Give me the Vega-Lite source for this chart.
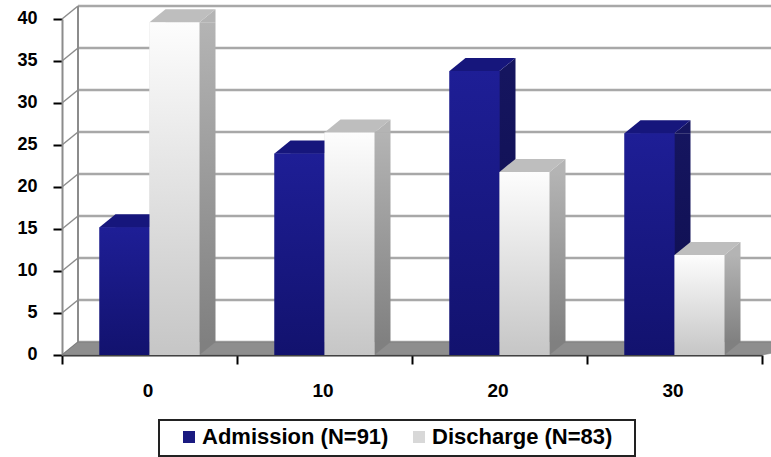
{
"$schema":"https://vega.github.io/schema/vega-lite/v6.json",
"width":700,"height":336,"autosize":"none",
"padding":{"left":62,"top":19,"right":9,"bottom":102},
"background":"white",
"config":{"view":{"stroke":null},"font":"Liberation Sans"},
"datasets":{
"bars":[
{"Score":"0","Group":"Admission (N=91)","Value":15.2},
{"Score":"10","Group":"Admission (N=91)","Value":24},
{"Score":"20","Group":"Admission (N=91)","Value":33.8},
{"Score":"30","Group":"Admission (N=91)","Value":26.4},
{"Score":"0","Group":"Discharge (N=83)","Value":39.6},
{"Score":"10","Group":"Discharge (N=83)","Value":26.5},
{"Score":"20","Group":"Discharge (N=83)","Value":21.8},
{"Score":"30","Group":"Discharge (N=83)","Value":11.9}
],
"ticks":[{"Tick":0},{"Tick":5},{"Tick":10},{"Tick":15},{"Tick":20},{"Tick":25},{"Tick":30},{"Tick":35},{"Tick":40}]
},
"layer":[
{"data":{"name":"ticks"},"mark":{"type":"point","filled":false,"opacity":1,"size":4,"stroke":"#a8a8a8","strokeWidth":2.5,"shape":"M-334,-13 L420,-13"},
 "encoding":{"y":{"field":"Tick","type":"quantitative","scale":{"domain":[0,40],"nice":false},"title":null}}},
{"data":{"name":"ticks"},"mark":{"type":"point","filled":false,"opacity":1,"size":4,"stroke":"#8c8c8c","strokeWidth":1.5,"shape":"M-350,0 L-334,-13"},
 "encoding":{"y":{"field":"Tick","type":"quantitative","scale":{"domain":[0,40],"nice":false},"title":null}}},
{"data":{"values":[{"Tick":0}]},"mark":{"type":"point","filled":false,"opacity":1,"size":4,"stroke":"#8c8c8c","strokeWidth":2,"shape":"M-334,-13 L-334,-349"},
 "encoding":{"y":{"field":"Tick","type":"quantitative","scale":{"domain":[0,40],"nice":false},"title":null}}},
{"data":{"values":[{"Tick":0}]},"mark":{"type":"point","filled":true,"opacity":1,"size":4,"fill":"#8e8e8e","stroke":"#6e6e6e","strokeWidth":0.5,"shape":"M-350,0 L-334,-13 L420,-13 L350,0 Z"},
 "encoding":{"y":{"field":"Tick","type":"quantitative","scale":{"domain":[0,40],"nice":false},"title":null}}},
{"data":{"values":[{"Tick":0}]},"mark":{"type":"point","filled":false,"opacity":1,"size":4,"stroke":"#222222","strokeWidth":2,"shape":"M-253,65 L223,65 L223,101 L-253,101 Z"},
 "encoding":{"y":{"field":"Tick","type":"quantitative","scale":{"domain":[0,40],"nice":false},"title":null}}},
{"data":{"name":"bars"},
 "encoding":{
  "x":{"field":"Score","type":"nominal","title":null,"scale":{"paddingInner":0,"paddingOuter":0},
   "axis":{"labelAngle":0,"tickBand":"extent","tickSize":9,"tickColor":"black","tickWidth":2,"domainColor":"#333333","domainWidth":2,"labelFont":"Liberation Sans","labelFontSize":19,"labelFontWeight":"bold","labelColor":"black","labelPadding":17,"labelOffset":-2,"grid":false}},
  "y":{"field":"Value","type":"quantitative","stack":null,"title":null,"scale":{"domain":[0,40],"nice":false},
   "axis":{"values":[0,5,10,15,20,25,30,35,40],"tickSize":9,"tickColor":"black","tickWidth":2,"domainColor":"#8c8c8c","domainWidth":2,"labelFont":"Liberation Sans","labelFontSize":18,"labelFontWeight":"bold","labelColor":"black","labelPadding":16,"labelOffset":-1,"grid":false}}
 },
 "resolve":{"scale":{"xOffset":"independent"}},
 "layer":[
  {"transform":[{"filter":"datum.Group === 'Admission (N=91)'"}],
   "encoding":{"xOffset":{"field":"Group","type":"nominal","scale":{"domain":["Admission (N=91)","Discharge (N=83)"],"range":[16,191],"paddingInner":0,"paddingOuter":0.75}}},
   "layer":[{"mark":{"type":"bar","y2Offset":-13,"fill":{"gradient":"linear","x1":0,"y1":0,"x2":0,"y2":1,"stops":[{"offset":0,"color":"#15155f"},{"offset":1,"color":"#0e0e4e"}]}},"encoding":{"y2":{"datum":0}}}]},
  {"encoding":{"xOffset":{"field":"Group","type":"nominal","scale":{"paddingInner":0,"paddingOuter":0.75}}},
   "layer":[
    {"mark":{"type":"bar"},"encoding":{"y2":{"datum":0},
      "color":{"field":"Group","type":"nominal","scale":{"range":["#1a1a80","#d8d8d8"]},
       "legend":{"title":null,"orient":"none","legendX":116,"legendY":407,"direction":"horizontal","columns":2,"symbolType":"square","symbolSize":144,"labelFont":"Liberation Sans","labelFontSize":22,"labelFontWeight":"bold","labelColor":"black","labelLimit":300,"padding":0,"columnPadding":19,"labelOffset":2}}}},
    {"transform":[{"filter":"datum.Group === 'Admission (N=91)'"}],"layer":[
     {"mark":{"type":"point","filled":true,"opacity":1,"size":4,"fill":"#15155f","shape":"M25,0 L41,-13 L41,0 Z"}},
     {"mark":{"type":"point","filled":true,"opacity":1,"size":4,"fill":"#0e0e4e","shape":"M25,0 L41,-13 L25,-13 Z"},"encoding":{"y":{"datum":0}}},
     {"mark":{"type":"point","filled":true,"opacity":1,"size":4,"fill":"#16167c","shape":"M-25,0 L25,0 L41,-13 L-9,-13 Z"}},
     {"mark":{"type":"bar","fill":{"gradient":"linear","x1":0,"y1":0,"x2":0,"y2":1,"stops":[{"offset":0,"color":"#1e1e96"},{"offset":1,"color":"#12126e"}]}},"encoding":{"y2":{"datum":0}}}
    ]}
   ]},
  {"transform":[{"filter":"datum.Group === 'Discharge (N=83)'"}],
   "encoding":{"xOffset":{"field":"Group","type":"nominal","scale":{"domain":["Admission (N=91)","Discharge (N=83)"],"range":[16,191],"paddingInner":0,"paddingOuter":0.75}}},
   "layer":[{"mark":{"type":"bar","y2Offset":-13,"fill":{"gradient":"linear","x1":0,"y1":0,"x2":0,"y2":1,"stops":[{"offset":0,"color":"#b4b4b4"},{"offset":1,"color":"#808080"}]}},"encoding":{"y2":{"datum":0}}}]},
  {"transform":[{"filter":"datum.Group === 'Discharge (N=83)'"}],
   "encoding":{"xOffset":{"field":"Group","type":"nominal","scale":{"domain":["Admission (N=91)","Discharge (N=83)"],"paddingInner":0,"paddingOuter":0.75}}},
   "layer":[
     {"mark":{"type":"point","filled":true,"opacity":1,"size":4,"fill":"#b4b4b4","shape":"M25,0 L41,-13 L41,0 Z"}},
     {"mark":{"type":"point","filled":true,"opacity":1,"size":4,"fill":"#808080","shape":"M25,0 L41,-13 L25,-13 Z"},"encoding":{"y":{"datum":0}}},
     {"mark":{"type":"point","filled":true,"opacity":1,"size":4,"fill":"#bebebe","shape":"M-25,0 L25,0 L41,-13 L-9,-13 Z"}},
     {"mark":{"type":"bar","fill":{"gradient":"linear","x1":0,"y1":0,"x2":0,"y2":1,"stops":[{"offset":0,"color":"#fdfdfd"},{"offset":1,"color":"#c6c6c6"}]}},"encoding":{"y2":{"datum":0}}}
   ]}
 ]}
]
}
